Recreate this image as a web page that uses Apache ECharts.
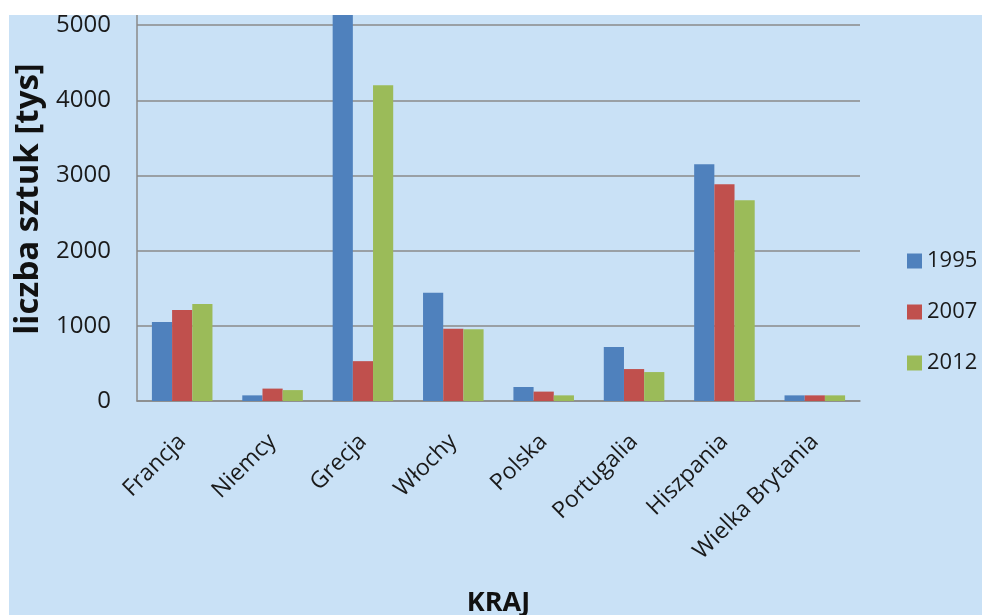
<!DOCTYPE html>
<html>
<head>
<meta charset="utf-8">
<script src="https://cdn.jsdelivr.net/npm/echarts@6/dist/echarts.min.js"></script>
<style>
  html, body { margin: 0; padding: 0; background: #ffffff; }
  #chart { position: absolute; left: 9px; top: 15px; width: 973px; height: 600px; }
</style>
</head>
<body>
<div id="chart"></div>
<script>
// kraje
var categories = ['Francja', 'Niemcy', 'Grecja', 'Włochy', 'Polska', 'Portugalia', 'Hiszpania', 'Wielka Brytania'];
var years = ['1995', '2007', '2012'];
// liczba sztuk [tys] wg roku
var values1995 = [1050, 75, 5500, 1440, 186, 720, 3150, 75];
var values2007 = [1210, 165, 530, 960, 125, 425, 2885, 75];
var values2012 = [1290, 145, 4200, 955, 75, 385, 2670, 75];
var yTicks = [0, 1000, 2000, 3000, 4000, 5000, 6000];

var colors = ['#4F81BD', '#C0504D', '#9BBB59'];
var font = '"Open Sans", "Noto Sans", sans-serif';

var myChart = echarts.init(document.getElementById('chart'));

function bar(name, data, i) {
    return {
        name: name,
        type: 'bar',
        data: data,
        barGap: '0%',
        barCategoryGap: '33%',
        itemStyle: { color: colors[i] },
        emphasis: { disabled: true }
    };
}

var option = {
    backgroundColor: '#C9E1F6',
    animation: false,
    textStyle: { fontFamily: font },
    // wykres jest przyciety u gory, stad ujemny top
    grid: { left: 128, right: 122, top: -65, bottom: 214, outerBoundsMode: 'none' },
    legend: {
        orient: 'vertical',
        left: 893,
        top: 230,
        itemWidth: 15,
        itemHeight: 15,
        itemGap: 29,
        icon: 'rect',
        data: years,
        textStyle: { fontSize: 22, color: '#1a1a1a', fontFamily: font }
    },
    xAxis: {
        type: 'category',
        data: categories,
        name: 'KRAJ',
        nameLocation: 'middle',
        nameGap: 189,
        nameTextStyle: { fontSize: 27, fontWeight: 'bold', color: '#111', fontFamily: font },
        axisLine: { lineStyle: { color: '#8a8a8a', width: 1.5 } },
        axisTick: { show: false },
        axisLabel: {
            interval: 0,
            rotate: 45,
            margin: 37,
            fontSize: 23,
            color: '#1a1a1a',
            fontFamily: font
        }
    },
    yAxis: {
        type: 'value',
        min: yTicks[0],
        max: yTicks[yTicks.length - 1],
        interval: 1000,
        axisLine: { show: true, lineStyle: { color: '#8a8a8a', width: 1.5 } },
        axisTick: { show: false },
        axisLabel: {
            fontSize: 24,
            color: '#1a1a1a',
            margin: 26,
            fontFamily: font,
            formatter: function (v) { return String(v); }
        },
        splitLine: { lineStyle: { color: '#8a8a8a', width: 1.5 } }
    },
    graphic: [{
        type: 'text',
        x: 20,
        y: 184,
        rotation: Math.PI / 2,
        style: {
            text: 'liczba sztuk [tys]',
            font: 'bold 33px ' + font,
            fill: '#111',
            textAlign: 'center',
            textVerticalAlign: 'middle'
        }
    }],
    series: [
        bar(years[0], values1995, 0),
        bar(years[1], values2007, 1),
        bar(years[2], values2012, 2)
    ]
};

myChart.setOption(option);
</script>
</body>
</html>
